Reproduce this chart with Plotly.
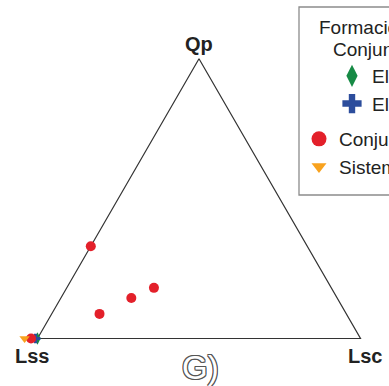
import math
import plotly.graph_objects as go

W, H = 389, 386

# ---- data (ternary fractions: a = Qp, b = Lss, c = Lsc) ----
series_names = ["El Rodeo", "El Progreso", "Conjunto Acatlán", "Sistema Tecomate"]
legend_title_1 = "Formación Tecomate"
legend_title_2 = "Conjunto Acatlán"

green_a = [0.0]
green_b = [1.0]
green_c = [0.0]

blue_a = [0.0]
blue_b = [1.006]
blue_c = [-0.006]

red_a = [0.33, 0.088, 0.145, 0.181, 0.0]
red_b = [0.67, 0.764, 0.637, 0.549, 1.02]
red_c = [0.0, 0.148, 0.218, 0.270, -0.02]

orange_a = [0.0]
orange_b = [1.04]
orange_c = [-0.04]

vertex_labels = ["Qp", "Lss", "Lsc"]
panel_label = "G)"

GREEN = "#168a45"
BLUE = "#2c4d9c"
RED = "#e3202a"
ORANGE = "#f8a21e"
FONT = "Liberation Sans, Arial, sans-serif"
S3 = math.sqrt(3) / 2


def tern_x(a, b, c):
    return [ci + ai / 2 for ai, ci in zip(a, c)]


def tern_y(a, b, c):
    return [ai * S3 for ai in a]


def px(x):
    return x / W


def py(y):
    return 1 - y / H


fig = go.Figure()

# triangle frame: corners Lss -> Lsc -> Qp -> Lss
frame_a = [0, 0, 1, 0]
frame_b = [1, 0, 0, 1]
frame_c = [0, 1, 0, 0]
fig.add_trace(go.Scatter(x=tern_x(frame_a, frame_b, frame_c), y=tern_y(frame_a, frame_b, frame_c),
                         mode="lines", line=dict(color="#333333", width=1.2),
                         showlegend=False, hoverinfo="skip"))

common = dict(mode="markers", cliponaxis=False, showlegend=False, hoverinfo="skip")
fig.add_trace(go.Scatter(x=tern_x(green_a, green_b, green_c), y=tern_y(green_a, green_b, green_c),
                         marker=dict(symbol="diamond-tall", size=9, color=GREEN), **common))
fig.add_trace(go.Scatter(x=tern_x(blue_a, blue_b, blue_c), y=tern_y(blue_a, blue_b, blue_c),
                         marker=dict(symbol="cross", size=8, color=BLUE), **common))
fig.add_trace(go.Scatter(x=tern_x(red_a, red_b, red_c), y=tern_y(red_a, red_b, red_c),
                         marker=dict(symbol="circle", size=10, color=RED), **common))
fig.add_trace(go.Scatter(x=tern_x(orange_a, orange_b, orange_c), y=tern_y(orange_a, orange_b, orange_c),
                         marker=dict(symbol="triangle-down", size=9, color=ORANGE), **common))

# legend entries (no data drawn; used only for the legend symbols)
fig.add_trace(go.Scatter(x=[None], y=[None], mode="markers", name=series_names[0],
                         marker=dict(symbol="diamond-tall", size=16, color=GREEN), legend="legend2"))
fig.add_trace(go.Scatter(x=[None], y=[None], mode="markers", name=series_names[1],
                         marker=dict(symbol="cross", size=16, color=BLUE), legend="legend2"))
fig.add_trace(go.Scatter(x=[None], y=[None], mode="markers", name=series_names[2],
                         marker=dict(symbol="circle", size=15, color=RED), legend="legend"))
fig.add_trace(go.Scatter(x=[None], y=[None], mode="markers", name=series_names[3],
                         marker=dict(symbol="triangle-down", size=13, color=ORANGE), legend="legend"))

U = 323.0  # pixels per ternary unit
x0_px, base_px = 37.5, 338.5
hidden = dict(visible=False, fixedrange=True)
fig.update_layout(
    width=W, height=H,
    margin=dict(l=0, r=0, t=0, b=0, pad=0, autoexpand=False),
    paper_bgcolor="white",
    plot_bgcolor="white",
    font=dict(family=FONT, color="#222222"),
    xaxis=dict(range=[-x0_px / U, (W - x0_px) / U], **hidden),
    yaxis=dict(range=[-(H - base_px) / U, base_px / U], **hidden),
    legend=dict(x=px(299), y=py(120), xanchor="left", yanchor="top",
                bgcolor="rgba(0,0,0,0)", borderwidth=0,
                font=dict(size=19, family=FONT, color="#222222"), tracegroupgap=0),
    legend2=dict(x=px(332), y=py(57), xanchor="left", yanchor="top",
                 bgcolor="rgba(0,0,0,0)", borderwidth=0,
                 font=dict(size=19, family=FONT, color="#222222"), tracegroupgap=0),
    shapes=[dict(type="rect", xref="paper", yref="paper",
                 x0=px(299), x1=px(420), y0=py(195), y1=py(7),
                 line=dict(color="#8c8c8c", width=1.3), fillcolor="rgba(0,0,0,0)")],
)

ann = []
lab_font = dict(family=FONT, size=20, color="#222222")
ann.append(dict(text="<b>%s</b>" % vertex_labels[0], x=px(198.5), y=py(44), font=lab_font))
ann.append(dict(text="<b>%s</b>" % vertex_labels[1], x=px(32), y=py(356), font=lab_font))
ann.append(dict(text="<b>%s</b>" % vertex_labels[2], x=px(365), y=py(356), font=lab_font))
ann.append(dict(text=legend_title_1, x=px(316.5), y=py(27), xanchor="left",
                font=dict(family=FONT, size=19, color="#222222")))
ann.append(dict(text=legend_title_2, x=px(331), y=py(49), xanchor="left",
                font=dict(family=FONT, size=19, color="#222222")))
outline = ", ".join("%dpx %dpx 0 #555555" % (dx, dy)
                    for dx in (-1, 0, 1) for dy in (-1, 0, 1) if (dx, dy) != (0, 0))
ann.append(dict(text=panel_label, x=px(200.5), y=py(367),
                font=dict(family=FONT, size=33, color="white", shadow=outline)))
for a_ in ann:
    a_.update(xref="paper", yref="paper", showarrow=False)
    a_.setdefault("xanchor", "center")
    a_.setdefault("yanchor", "middle")
fig.update_layout(annotations=ann)

fig.write_html("out.html")
